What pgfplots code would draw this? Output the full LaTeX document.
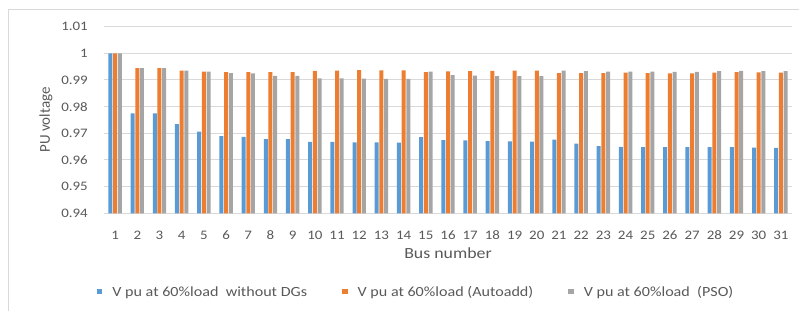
\documentclass[border=0pt]{standalone}
\usepackage{pgfplots}
\usepackage{pgfplotstable}
\pgfplotsset{compat=1.18}
\usepackage{fontspec}
\setmainfont{Carlito}[FakeStretch=1.15]
\newfontfamily\ylfont{Carlito}
\definecolor{cblue}{HTML}{5B9BD5}
\definecolor{corange}{HTML}{ED7D31}
\definecolor{cgray}{HTML}{A5A5A5}
\definecolor{tc}{HTML}{595959}
\definecolor{gridc}{HTML}{D9D9D9}
\pgfplotstableread{
bus a b c
1 1.0000 1.0000 1.0000
2 0.9775 0.9944 0.9944
3 0.9775 0.9944 0.9944
4 0.9734 0.9935 0.9935
5 0.9706 0.9931 0.9931
6 0.9689 0.9929 0.9926
7 0.9687 0.9929 0.9925
8 0.9678 0.9929 0.9915
9 0.9678 0.9929 0.9915
10 0.9668 0.9934 0.9906
11 0.9668 0.9935 0.9906
12 0.9666 0.9937 0.9905
13 0.9666 0.9936 0.9904
14 0.9665 0.9936 0.9904
15 0.9686 0.9929 0.9931
16 0.9674 0.9932 0.9918
17 0.9673 0.9933 0.9916
18 0.9671 0.9934 0.9914
19 0.9670 0.9935 0.9914
20 0.9669 0.9935 0.9914
21 0.9676 0.9926 0.9935
22 0.9661 0.9926 0.9933
23 0.9652 0.9926 0.9931
24 0.9649 0.9927 0.9931
25 0.9648 0.9926 0.9931
26 0.9648 0.9925 0.9930
27 0.9648 0.9925 0.9930
28 0.9648 0.9927 0.9933
29 0.9648 0.9929 0.9934
30 0.9646 0.9928 0.9933
31 0.9645 0.9927 0.9933
}\datatable
\begin{document}
\begin{tikzpicture}
\path[use as bounding box] (0,0) rectangle (799bp,311bp);
\draw[gridc, line width=1bp] (8bp,0) -- (8bp,301bp) -- (799bp,301bp);
\begin{axis}[
  at={(104bp,97.7bp)}, anchor=south west,
  scale only axis, width=688bp, height=186.7bp,
  xmin=0.5, xmax=31.5, ymin=0.94, ymax=1.01,
  ybar=0.7bp, bar width=4bp,
  xtick={1,2,3,4,5,6,7,8,9,10,11,12,13,14,15,16,17,18,19,20,21,22,23,24,25,26,27,28,29,30,31},
  xticklabels={1,2,3,4,5,6,7,8,9,10,11,12,13,14,15,16,17,18,19,20,21,22,23,24,25,26,27,28,29,30,31},
  ytick={0.94,0.95,0.96,0.97,0.98,0.99,1,1.01},
  yticklabels={0.94,0.95,0.96,0.97,0.98,0.99,1,1.01},
  ymajorgrids, major grid style={draw=gridc, line width=1bp},
  axis line style={draw=none}, tick style={draw=none},
  yticklabel style={font=\fontsize{13bp}{15bp}\selectfont, text=tc, anchor=east, inner sep=0pt, xshift=-16bp},
  xticklabel style={font=\fontsize{13bp}{15bp}\selectfont, text=tc, anchor=base, inner sep=0pt, yshift=-21.7bp},
  xlabel={Bus number},
  xlabel style={font=\fontsize{15.5bp}{17bp}\selectfont, text=tc, at={(axis description cs:0.5,0)}, anchor=base, inner sep=0pt, yshift=-44.7bp},
  ylabel={PU voltage},
  ylabel style={font=\ylfont\fontsize{15bp}{17bp}\selectfont, text=tc, at={(axis description cs:-0.0785,0.5)}, anchor=base, inner sep=0pt},
  legend columns=3,
  legend cell align=left,
  legend style={at={(axis description cs:-0.0106,-0.4215)}, anchor=west, draw=none, fill=none, inner sep=0pt,
    font=\fontsize{14bp}{16bp}\selectfont, text=tc, nodes={inner sep=0pt},
    /tikz/every odd column/.append style={column sep=10bp},
    /tikz/every even column/.append style={column sep=35bp}},
  sqlegend/.style={legend image code/.code={\fill[##1] (0bp,-2.25bp) rectangle (5.5bp,3.25bp);}},
]
\addplot[fill=cblue, draw=none, sqlegend] table[x=bus, y=a] {\datatable};
\addplot[fill=corange, draw=none, sqlegend] table[x=bus, y=b] {\datatable};
\addplot[fill=cgray, draw=none, sqlegend] table[x=bus, y=c] {\datatable};
\legend{V pu at 60\%load\ \ without DGs, V pu at 60\%load (Autoadd), V pu at 60\%load\ \ (PSO)}
\end{axis}
\end{tikzpicture}
\end{document}
